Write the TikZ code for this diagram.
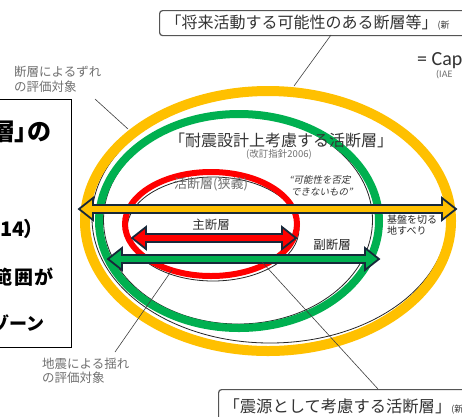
\documentclass[tikz,border=0pt]{standalone}
\usepackage{fontspec}
\setmainfont{Liberation Sans}
\newfontfamily\jp{Noto Sans CJK JP}
\newfontfamily\jpp[RawFeature=+palt]{Noto Sans CJK JP}
\newfontfamily\jpsl[FakeSlant=0.2]{Noto Sans CJK JP}
\newfontfamily\carlitofont{Carlito}
\definecolor{cOrange}{HTML}{FFC000}
\definecolor{cGreen}{HTML}{00B050}
\definecolor{cRed}{HTML}{FF0000}
\definecolor{cNavy}{HTML}{17283A}
\definecolor{cText}{HTML}{333333}
\definecolor{cLabel}{HTML}{707070}
\definecolor{cBox}{HTML}{555555}
\newcommand\fsz[1]{\fontsize{#1pt}{#1pt}\selectfont}
\newcommand\blockarrow[4]{%
  \path[draw=cNavy, line width=1.8pt, line join=miter, fill=#4]
   (#1,#3) -- (#1+14,#3-11) -- (#1+14,#3-4) -- (#2-14,#3-4) -- (#2-14,#3-11)
   -- (#2,#3) -- (#2-14,#3+11) -- (#2-14,#3+4) -- (#1+14,#3+4) -- (#1+14,#3+11) -- cycle;}
\tikzset{
  leader/.style={draw=black!75, line width=0.6pt},
  thinring/.style={draw=black!85, line width=0.8pt},
  txt/.style={inner sep=0pt, text=cText},
  lbl/.style={inner sep=0pt, text=cLabel, font=\jp\fsz{12.5}, anchor=west},
  bigtxt/.style={inner sep=0pt, text=black, anchor=east},
}
\begin{document}
\begin{tikzpicture}[x=1pt, y=-1pt]
\useasboundingbox (0,0) rectangle (462,416);
\clip (0,0) rectangle (462,416);
\fill[white] (0,0) rectangle (462,416);

% thin sketch outlines (partly hidden under the coloured rings)
\draw[thinring] (270,218) ellipse [x radius=178pt, y radius=125pt];
\draw[thinring] (238,220) ellipse [x radius=134.5pt, y radius=104pt];
\draw[thinring] (213,229) ellipse [x radius=86pt, y radius=52pt];
% coloured rings
\draw[cOrange, line width=10pt] (268,221) ellipse [x radius=183pt, y radius=130pt];
\draw[cGreen, line width=8pt] (239,221) ellipse [x radius=140pt, y radius=107pt];
\draw[cRed, line width=6pt] (211,224) ellipse [x radius=86pt, y radius=52pt];

% top box
\node (topbox) [draw=cBox, line width=1.2pt, rounded corners=3pt, anchor=north west,
  minimum height=25pt, text width=318pt, inner xsep=6pt, align=left, text=cText]
  at (159,10) {\jp\fsz{16}「将来活動する可能性のある断層等」{\fsz{9}(新}};
\node (capT) [txt, anchor=west, font=\carlitofont\fsz{20}] at (417,61) {= Cap};
\node (iaeT) [txt, anchor=west, text=cLabel, font=\carlitofont\fsz{10}] at (436,75) {(IAE};

% small labels
\node (lblTL1) [lbl] at (14,72) {断層によるずれ};
\node (lblTL2) [lbl] at (14,87) {の評価対象};
\node (lblBL1) [lbl] at (42,364) {地震による揺れ};
\node (lblBL2) [lbl] at (42,378) {の評価対象};

% inner texts
\node (taishinT) [txt, anchor=west, font=\jp\fsz{16}] at (169,140) {「耐震設計上考慮する活断層」};
\node (kaiteiT) [txt, text=cLabel, font=\jp\fsz{9.5}] at (279,154) {(改訂指針2006)};
\node (katsuT) [txt, anchor=west, text=cLabel, font=\jp\fsz{13}] at (174,184) {活断層(狭義)};
\node (kanouT1) [txt, anchor=west, font=\jpsl\fsz{9.5}] at (289,180) {“可能性を否定};
\node (kanouT2) [txt, anchor=west, font=\jpsl\fsz{9.5}] at (291,192) {できないもの”};
\node (shuT) [txt, font=\jp\fsz{12.5}] at (211,225) {主断層};
\node (fukuT) [txt, font=\jp\fsz{12.5}, text=black!85] at (332,245) {副断層};
\node (kibanT1) [txt, anchor=west, font=\jp\fsz{10}, text=black!85] at (387,220) {基盤を切る};
\node (kibanT2) [txt, anchor=west, font=\jp\fsz{10}, text=black!85] at (387,231) {地すべり};

% arrows
\blockarrow{79}{456}{209}{cOrange}
\blockarrow{132}{296}{238}{cRed}
\blockarrow{108}{379}{259}{cGreen}

% left box
\node (leftbox) [draw=black, line width=1pt, anchor=north east, minimum width=90pt,
  minimum height=248pt, inner sep=0pt] at (72,99) {};
\begin{scope}
\clip (0,99) rectangle (72,347);
\node (lbT1) [bigtxt, font=\jpp\bfseries\fsz{24}] at (51,132) {層」の};
\node (lbT2) [bigtxt, font=\jpp\bfseries\fsz{20}] at (35,229) {14）};
\node (lbT3) [bigtxt, font=\jp\bfseries\fsz{19}] at (54,277) {範\hspace{1.5pt}囲\hspace{1.5pt}が};
\node (lbT4) [bigtxt, font=\jp\bfseries\fsz{18}] at (45,323) {ゾーン};
\end{scope}

% bottom box
\node (botbox) [draw=cBox, line width=1.2pt, rounded corners=3pt, anchor=north west,
  minimum height=34pt, text width=250pt, inner xsep=5pt, align=left, text=cText]
  at (218,389) {\jp\fsz{16.3}「震源として考慮する活断層」{\fsz{9}(新}};

% leader lines
\coordinate (tA) at (331,35);   \coordinate (tB) at (294,86);
\coordinate (ulA) at (95,99);   \coordinate (ulB) at (128,129);
\coordinate (blA) at (115,352); \coordinate (blB) at (172,270);
\coordinate (brA) at (262,262); \coordinate (brB) at (378,389);
\draw[leader] (tA) -- (tB);
\draw[leader] (ulA) -- (ulB);
\draw[leader] (blA) -- (blB);
\draw[leader] (brA) -- (brB);
\end{tikzpicture}
\end{document}
